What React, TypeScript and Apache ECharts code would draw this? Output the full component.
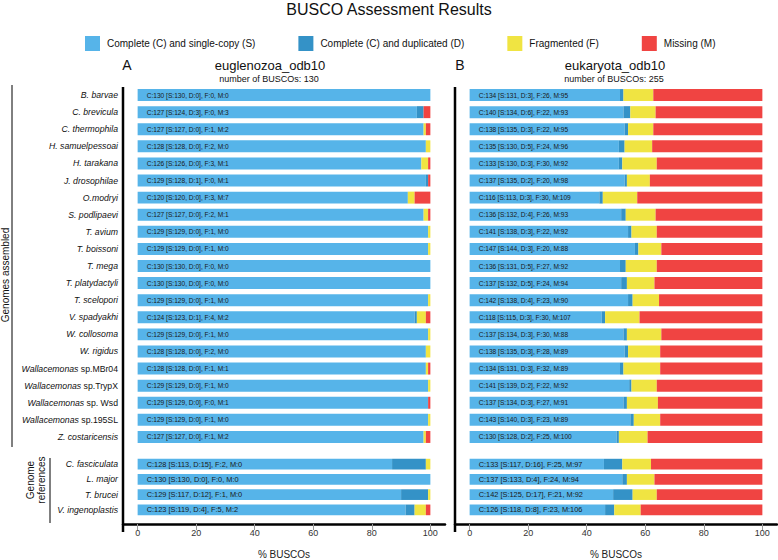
import React, { useEffect, useRef } from "react";
import * as echarts from "echarts";

const genomesAssembled = [
  "B. barvae", "C. brevicula", "C. thermophila", "H. samuelpessoai", "H. tarakana",
  "J. drosophilae", "O.modryi", "S. podlipaevi", "T. avium", "T. boissoni", "T. mega",
  "T. platydactyli", "T. scelopori", "V. spadyakhi", "W. collosoma", "W. rigidus",
  "Wallacemonas sp.MBr04", "Wallacemonas sp.TrypX", "Wallacemonas sp. Wsd",
  "Wallacemonas sp.195SL", "Z. costaricensis",
];
const genomeReferences = ["C. fasciculata", "L. major", "T. brucei", "V. ingenoplastis"];

const euglenozoaTotal = 130;
const euglenozoaS = [130, 124, 127, 128, 126, 128, 120, 127, 129, 129, 130, 130, 129, 123, 129, 128, 128, 129, 129, 129, 127, 113, 130, 117, 119];
const euglenozoaD = [0, 3, 0, 0, 0, 1, 0, 0, 0, 0, 0, 0, 0, 1, 0, 0, 0, 0, 0, 0, 0, 15, 0, 12, 4];
const euglenozoaF = [0, 0, 1, 2, 3, 0, 3, 2, 1, 1, 0, 0, 1, 4, 1, 2, 1, 1, 0, 1, 1, 2, 0, 1, 5];
const euglenozoaM = [0, 3, 2, 0, 1, 1, 7, 1, 0, 0, 0, 0, 0, 2, 0, 0, 1, 0, 1, 0, 2, 0, 0, 0, 2];

const eukaryotaTotal = 255;
const eukaryotaS = [131, 134, 135, 130, 130, 135, 113, 132, 138, 144, 131, 132, 138, 115, 134, 135, 131, 139, 134, 140, 128, 117, 133, 125, 118];
const eukaryotaD = [3, 6, 3, 5, 3, 2, 3, 4, 3, 3, 5, 5, 4, 3, 3, 3, 3, 2, 3, 3, 2, 16, 4, 17, 8];
const eukaryotaF = [26, 22, 22, 24, 30, 20, 30, 26, 22, 20, 27, 24, 23, 30, 30, 28, 32, 22, 27, 23, 25, 25, 24, 21, 23];
const eukaryotaM = [95, 93, 95, 96, 92, 98, 109, 93, 92, 88, 92, 94, 90, 107, 88, 89, 89, 92, 91, 89, 100, 97, 94, 92, 106];

const categoryNames = [
  "Complete (C) and single-copy (S)",
  "Complete (C) and duplicated (D)",
  "Fragmented (F)",
  "Missing (M)",
];
const categoryColors = ["#56B4E9", "#3492C7", "#F0E442", "#F04442"];
const xTicks = [0, 20, 40, 60, 80, 100];

const FONT = "'Liberation Sans', Arial, Helvetica, sans-serif";

function speciesLabel(name: string) {
  if (name.startsWith("Wallacemonas")) {
    return "{i|Wallacemonas}{n|" + name.slice("Wallacemonas".length) + "}";
  }
  return "{i|" + name + "}";
}

function buildOption() {
  const panels = [
    { S: euglenozoaS, D: euglenozoaD, F: euglenozoaF, M: euglenozoaM, total: euglenozoaTotal, left: 123 },
    { S: eukaryotaS, D: eukaryotaD, F: eukaryotaF, M: eukaryotaM, total: eukaryotaTotal, left: 455 },
  ];
  const nTop = genomesAssembled.length;
  const grids: any[] = [];
  const xAxes: any[] = [];
  const yAxes: any[] = [];
  const series: any[] = [];

  panels.forEach((p, pi) => {
    [0, 1].forEach((part) => {
      const gi = pi * 2 + part;
      const isBottom = part === 1;
      const names = isBottom ? genomeReferences : genomesAssembled;
      const from = isBottom ? nTop : 0;
      const to = isBottom ? nTop + genomeReferences.length : nTop;
      grids.push({
        left: p.left,
        width: 322,
        top: isBottom ? 456.5 : 86.5,
        height: isBottom ? 68 : 359,
      });
      xAxes.push({
        type: "value",
        gridIndex: gi,
        min: -5,
        max: 105,
        show: isBottom,
        offset: 6.5,
        name: "% BUSCOs",
        nameLocation: "middle",
        nameGap: 25,
        nameTextStyle: { fontFamily: FONT, fontSize: 10, color: "#222" },
        axisLine: { show: true, lineStyle: { color: "#000", width: 2.5 } },
        axisTick: { show: true, customValues: xTicks, length: 6, lineStyle: { color: "#999", width: 1 } },
        axisLabel: { customValues: xTicks, fontFamily: FONT, fontSize: 9, color: "#333", margin: 4 },
        splitLine: { show: false },
      });
      yAxes.push({
        type: "category",
        gridIndex: gi,
        inverse: true,
        data: names,
        axisLine: { show: false },
        axisTick: { show: false },
        axisLabel: {
          show: pi === 0,
          interval: 0,
          margin: 5,
          formatter: (v: string) => speciesLabel(v),
          rich: {
            i: { fontFamily: FONT, fontStyle: "italic", fontSize: 8.7, color: "#111" },
            n: { fontFamily: FONT, fontSize: 8.7, color: "#111" },
          },
        },
      });
      const comps = [p.S, p.D, p.F, p.M];
      comps.forEach((arr, ci) => {
        const s: any = {
          type: "bar",
          name: categoryNames[ci],
          stack: "g" + gi,
          xAxisIndex: gi,
          yAxisIndex: gi,
          barCategoryGap: "30%",
          itemStyle: { color: categoryColors[ci] },
          data: arr.slice(from, to).map((v) => (v / p.total) * 100),
        };
        if (ci === 0) {
          s.label = {
            show: true,
            position: "insideLeft",
            distance: 9,
            fontFamily: FONT,
            fontSize: isBottom ? 7.4 : 6.6,
            color: "#1a1a1a",
            formatter: (params: any) => {
              const k = from + params.dataIndex;
              const S = p.S[k], D = p.D[k], F = p.F[k], M = p.M[k];
              return `C:${S + D} [S:${S}, D:${D}], F:${F}, M:${M}`;
            },
          };
        }
        series.push(s);
      });
    });
  });

  const textStyle = (t: string, size: number, extra: any = {}) => ({
    text: t, fontSize: size, fontFamily: FONT, fill: "#111", align: "center", verticalAlign: "middle", ...extra,
  });

  return {
    animation: false,
    backgroundColor: "#fff",
    legend: {
      data: categoryNames,
      left: 80,
      top: 31,
      icon: "rect",
      itemWidth: 15,
      itemHeight: 15,
      itemGap: 43,
      textStyle: { fontFamily: FONT, fontSize: 10, color: "#111", padding: [0, 0, 0, 2] },
      selectedMode: false,
    },
    grid: grids,
    xAxis: xAxes,
    yAxis: yAxes,
    series,
    graphic: [
      { type: "text", x: 389, y: 9, style: textStyle("BUSCO Assessment Results", 16) },
      { type: "text", x: 127, y: 65, style: textStyle("A", 14) },
      { type: "text", x: 270, y: 65, style: textStyle("euglenozoa_odb10", 13) },
      { type: "text", x: 269, y: 79, style: textStyle("number of BUSCOs: 130", 9) },
      { type: "text", x: 460, y: 65, style: textStyle("B", 14) },
      { type: "text", x: 615, y: 65, style: textStyle("eukaryota_odb10", 13) },
      { type: "text", x: 614, y: 79, style: textStyle("number of BUSCOs: 255", 9) },
      { type: "line", shape: { x1: 123, y1: 87, x2: 123, y2: 532 }, style: { stroke: "#000", lineWidth: 2.5 } },
      { type: "line", shape: { x1: 455, y1: 87, x2: 455, y2: 532 }, style: { stroke: "#000", lineWidth: 2.5 } },
      { type: "line", shape: { x1: 12, y1: 85, x2: 12, y2: 447 }, style: { stroke: "#000", lineWidth: 1 } },
      { type: "line", shape: { x1: 50, y1: 458, x2: 50, y2: 523 }, style: { stroke: "#000", lineWidth: 1 } },
      { type: "text", x: 5, y: 275, rotation: Math.PI / 2, style: textStyle("Genomes assembled", 10, { backgroundColor: "#fff" }) },
      { type: "text", x: 36, y: 480, rotation: Math.PI / 2, style: textStyle("Genome\nreferences", 10, { lineHeight: 11 }) },
    ],
  };
}

export default function App() {
  const ref = useRef<HTMLDivElement>(null);
  useEffect(() => {
    const chart = echarts.init(ref.current!, null, { renderer: "svg" });
    chart.setOption(buildOption() as any);
    return () => chart.dispose();
  }, []);
  return (
    <div
      ref={ref}
      style={{ position: "absolute", left: 0, top: 0, width: 778, height: 560, background: "#fff" }}
    />
  );
}
